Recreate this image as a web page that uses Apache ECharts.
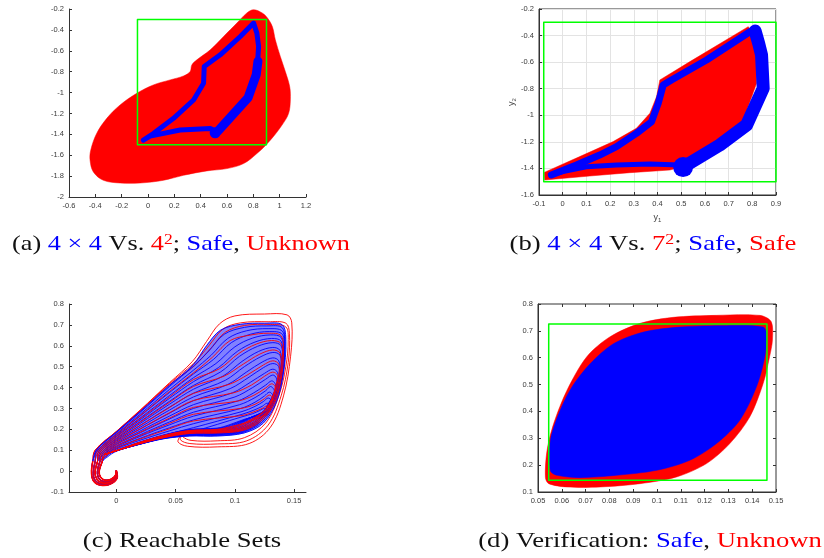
<!DOCTYPE html>
<html><head><meta charset="utf-8">
<script src="https://cdn.jsdelivr.net/npm/echarts@6/dist/echarts.min.js"></script>
<style>html,body{margin:0;padding:0;background:#fff}#c{width:824px;height:558px}</style>
</head><body><div id="c"></div>
<script>
// ================= DATA =================
// Panel (a): 4x4 vs 4^2
const aRedRegion = [[0.802,-0.207],[0.87,-0.24],[0.91,-0.29],[0.945,-0.37],[0.967,-0.495],[1.005,-0.655],[1.043,-0.799],[1.076,-0.943],[1.081,-1.071],[1.068,-1.199],[1.018,-1.311],[0.929,-1.456],[0.827,-1.584],[0.726,-1.68],[0.599,-1.728],[0.447,-1.75],[0.27,-1.792],[0.118,-1.84],[-0.06,-1.866],[-0.212,-1.866],[-0.339,-1.84],[-0.415,-1.76],[-0.44,-1.648],[-0.435,-1.552],[-0.39,-1.392],[-0.313,-1.247],[-0.212,-1.119],[-0.085,-1.007],[0.041,-0.927],[0.168,-0.879],[0.27,-0.841],[0.32,-0.799],[0.333,-0.735],[0.371,-0.687],[0.473,-0.591],[0.574,-0.463],[0.675,-0.335],[0.751,-0.238]];
const aBlueLoop = [[-0.035,-1.456],[0.041,-1.392],[0.194,-1.247],[0.346,-1.071],[0.422,-0.911],[0.427,-0.751],[0.549,-0.639],[0.701,-0.463],[0.802,-0.335],[0.827,-0.431],[0.840,-0.559],[0.827,-0.815],[0.764,-1.039],[0.65,-1.199],[0.523,-1.376],[0.473,-1.343],[0.244,-1.359],[0.016,-1.417],[-0.035,-1.456]];
const aBlueThick = [[0.835,-0.70],[0.822,-0.83],[0.76,-1.05],[0.645,-1.21],[0.53,-1.37]];
const aBlueBlob = [[0.51,-1.385]];
const safeBox = [[-0.08,-1.5],[0.9,-1.5],[0.9,-0.3],[-0.08,-0.3],[-0.08,-1.5]];

// Panel (b): 4x4 vs 7^2
const bRedRegion = [[-0.076,-1.487],[-0.078,-1.43],[0.072,-1.311],[0.213,-1.198],[0.311,-1.098],[0.368,-0.985],[0.396,-0.86],[0.41,-0.734],[0.537,-0.596],[0.783,-0.333],[0.818,-0.433],[0.818,-0.759],[0.762,-1.035],[0.607,-1.261],[0.48,-1.399],[0.452,-1.412],[0.283,-1.432],[0.114,-1.457]];
const bBlueEdgeTop = [[-0.048,-1.449],[0.058,-1.374],[0.156,-1.299],[0.227,-1.236],[0.311,-1.136],[0.375,-1.048],[0.403,-0.910],[0.424,-0.772],[0.459,-0.734],[0.607,-0.584],[0.790,-0.371],[0.812,-0.36]];
const bBlueEdgeRight = [[0.812,-0.365],[0.827,-0.46],[0.839,-0.546],[0.846,-0.797],[0.776,-1.073],[0.663,-1.224],[0.523,-1.374]];
const bBlueEdgeBottom = [[0.494,-1.374],[0.368,-1.367],[0.227,-1.374],[0.1,-1.387],[0.001,-1.424],[-0.048,-1.449]];
const bBlueBlob = [[0.508,-1.39]];

// Panel (c): reachable set trajectories (curl near the origin, then one loop each)
const hookA = [[0,0],[0.0005,-0.035],[-0.005,-0.062],[-0.013,-0.068],[-0.019,-0.05],[-0.021,-0.01],[-0.02,0.045]];
const hookB = [[0,0],[0,-0.032],[-0.005,-0.057],[-0.0125,-0.062],[-0.018,-0.044],[-0.0195,-0.007],[-0.018,0.045]];
const hookC = [[0,0],[-0.0005,-0.03],[-0.005,-0.052],[-0.012,-0.056],[-0.0165,-0.038],[-0.018,-0.005],[-0.016,0.045]];
const hookD = [[0,0],[-0.001,-0.026],[-0.005,-0.046],[-0.011,-0.05],[-0.015,-0.033],[-0.016,-0.002],[-0.014,0.045]];
const hookE = [[0,0],[-0.001,-0.022],[-0.005,-0.04],[-0.01,-0.043],[-0.0135,-0.028],[-0.0145,0.0],[-0.012,0.045]];
const redLoops = [
 [[-0.018,0.1],[0.0,0.19],[0.02,0.292],[0.045,0.424],[0.064,0.524],[0.076,0.62],[0.087,0.705],[0.1,0.743],[0.125,0.752],[0.144,0.748],[0.148,0.71],[0.147,0.55],[0.141,0.36],[0.13,0.21],[0.112,0.132],[0.085,0.116],[0.06,0.119],[0.052,0.14],[0.054,0.178],[0.035,0.152],[0.015,0.122],[0.0,0.097],[-0.01,0.078]],
 [[-0.018,0.1],[0.0,0.19],[0.02,0.29],[0.045,0.42],[0.065,0.515],[0.078,0.6],[0.09,0.68],[0.105,0.71],[0.128,0.715],[0.143,0.708],[0.146,0.66],[0.145,0.52],[0.139,0.36],[0.128,0.22],[0.11,0.145],[0.085,0.13],[0.062,0.132],[0.054,0.15],[0.055,0.18],[0.035,0.153],[0.015,0.123],[0.0,0.097],[-0.01,0.078]],
 [[-0.017,0.1],[0.0,0.188],[0.02,0.287],[0.045,0.415],[0.066,0.505],[0.08,0.59],[0.092,0.665],[0.108,0.697],[0.13,0.702],[0.143,0.69],[0.145,0.63],[0.143,0.5],[0.137,0.36],[0.126,0.23],[0.108,0.16],[0.085,0.145],[0.063,0.147],[0.056,0.165],[0.056,0.182],[0.035,0.154],[0.015,0.124],[0.0,0.097],[-0.01,0.078]],
 [[-0.016,0.095],[0.0,0.176],[0.02,0.266],[0.045,0.382],[0.065,0.47],[0.081,0.545],[0.096,0.625],[0.112,0.65],[0.128,0.66],[0.139,0.648],[0.141,0.57],[0.139,0.44],[0.133,0.32],[0.122,0.24],[0.107,0.195],[0.085,0.182],[0.062,0.18],[0.04,0.16],[0.018,0.128],[0.0,0.098],[-0.01,0.08]],
 [[-0.015,0.092],[0.0,0.166],[0.02,0.25],[0.045,0.356],[0.065,0.438],[0.087,0.49],[0.103,0.562],[0.118,0.608],[0.131,0.625],[0.139,0.61],[0.14,0.54],[0.138,0.43],[0.132,0.32],[0.121,0.243],[0.106,0.198],[0.085,0.185],[0.062,0.182],[0.04,0.161],[0.018,0.129],[0.0,0.098],[-0.01,0.08]],
 [[-0.014,0.09],[0.0,0.157],[0.02,0.234],[0.045,0.33],[0.065,0.405],[0.091,0.455],[0.107,0.512],[0.121,0.56],[0.132,0.58],[0.138,0.565],[0.139,0.5],[0.136,0.405],[0.13,0.31],[0.12,0.245],[0.105,0.2],[0.085,0.188],[0.062,0.185],[0.04,0.162],[0.018,0.13],[0.0,0.098],[-0.01,0.08]],
 [[-0.013,0.087],[0.0,0.147],[0.02,0.218],[0.045,0.305],[0.065,0.372],[0.095,0.415],[0.111,0.462],[0.124,0.508],[0.132,0.528],[0.137,0.512],[0.137,0.46],[0.134,0.385],[0.128,0.3],[0.119,0.248],[0.104,0.203],[0.085,0.19],[0.062,0.187],[0.04,0.164],[0.018,0.131],[0.0,0.098],[-0.01,0.08]],
 [[-0.012,0.083],[0.0,0.138],[0.02,0.202],[0.045,0.28],[0.065,0.338],[0.099,0.375],[0.114,0.412],[0.125,0.454],[0.132,0.474],[0.136,0.458],[0.135,0.42],[0.132,0.36],[0.126,0.295],[0.117,0.25],[0.103,0.206],[0.085,0.193],[0.062,0.189],[0.04,0.166],[0.018,0.132],[0.0,0.098],[-0.01,0.08]],
 [[-0.011,0.079],[0.0,0.128],[0.02,0.186],[0.045,0.254],[0.065,0.305],[0.103,0.336],[0.116,0.363],[0.126,0.398],[0.131,0.418],[0.134,0.404],[0.133,0.375],[0.13,0.33],[0.124,0.285],[0.115,0.25],[0.102,0.21],[0.085,0.196],[0.062,0.191],[0.04,0.168],[0.018,0.133],[0.0,0.098],[-0.01,0.08]],
 [[-0.01,0.075],[0.0,0.119],[0.02,0.17],[0.045,0.229],[0.065,0.272],[0.105,0.3],[0.117,0.32],[0.125,0.347],[0.129,0.364],[0.132,0.35],[0.131,0.33],[0.127,0.3],[0.121,0.27],[0.113,0.245],[0.1,0.213],[0.085,0.198],[0.062,0.193],[0.04,0.17],[0.018,0.134],[0.0,0.098],[-0.01,0.08]],
 [[-0.009,0.071],[0.0,0.109],[0.02,0.154],[0.045,0.203],[0.065,0.24],[0.106,0.266],[0.116,0.284],[0.123,0.3],[0.127,0.312],[0.13,0.3],[0.128,0.28],[0.124,0.265],[0.118,0.25],[0.11,0.232],[0.098,0.215],[0.085,0.2],[0.062,0.195],[0.04,0.171],[0.018,0.135],[0.0,0.098],[-0.01,0.08]]
];
const blueLoops = [
 [[-0.017,0.1],[0.0,0.187],[0.02,0.285],[0.045,0.412],[0.065,0.51],[0.076,0.6],[0.088,0.675],[0.105,0.703],[0.125,0.708],[0.14,0.7],[0.143,0.62],[0.141,0.47],[0.135,0.33],[0.124,0.23],[0.108,0.183],[0.085,0.168],[0.062,0.168],[0.04,0.155],[0.018,0.126],[0.0,0.098],[-0.01,0.08]],
 [[-0.017,0.1],[0.0,0.185],[0.02,0.281],[0.045,0.406],[0.065,0.502],[0.078,0.575],[0.091,0.655],[0.108,0.688],[0.127,0.695],[0.14,0.686],[0.142,0.6],[0.14,0.46],[0.134,0.33],[0.123,0.235],[0.107,0.186],[0.085,0.171],[0.062,0.17],[0.04,0.156],[0.018,0.126],[0.0,0.098],[-0.01,0.08]],
 [[-0.016,0.098],[0.0,0.179],[0.02,0.272],[0.045,0.392],[0.065,0.483],[0.08,0.555],[0.094,0.635],[0.11,0.672],[0.128,0.682],[0.14,0.67],[0.142,0.59],[0.14,0.45],[0.133,0.33],[0.122,0.238],[0.107,0.189],[0.085,0.174],[0.062,0.172],[0.04,0.157],[0.018,0.127],[0.0,0.098],[-0.01,0.08]],
 [[-0.016,0.096],[0.0,0.174],[0.02,0.263],[0.045,0.377],[0.065,0.465],[0.082,0.535],[0.097,0.615],[0.113,0.655],[0.129,0.668],[0.14,0.655],[0.141,0.58],[0.139,0.44],[0.133,0.33],[0.122,0.24],[0.106,0.191],[0.085,0.176],[0.062,0.174],[0.04,0.158],[0.018,0.127],[0.0,0.098],[-0.01,0.08]],
 [[-0.015,0.094],[0.0,0.169],[0.02,0.254],[0.045,0.363],[0.065,0.447],[0.084,0.515],[0.1,0.595],[0.115,0.637],[0.13,0.652],[0.139,0.64],[0.141,0.57],[0.139,0.44],[0.132,0.33],[0.121,0.242],[0.106,0.193],[0.085,0.178],[0.062,0.176],[0.04,0.159],[0.018,0.128],[0.0,0.098],[-0.01,0.08]],
 [[-0.015,0.092],[0.0,0.164],[0.02,0.245],[0.045,0.349],[0.065,0.428],[0.086,0.495],[0.102,0.573],[0.117,0.618],[0.131,0.635],[0.139,0.622],[0.14,0.55],[0.138,0.43],[0.132,0.32],[0.121,0.244],[0.105,0.195],[0.085,0.18],[0.062,0.178],[0.04,0.16],[0.018,0.128],[0.0,0.098],[-0.01,0.08]],
 [[-0.014,0.09],[0.0,0.158],[0.02,0.237],[0.045,0.335],[0.065,0.41],[0.088,0.475],[0.104,0.55],[0.119,0.597],[0.132,0.615],[0.139,0.6],[0.14,0.53],[0.138,0.42],[0.131,0.32],[0.12,0.246],[0.105,0.197],[0.085,0.182],[0.062,0.18],[0.04,0.161],[0.018,0.129],[0.0,0.098],[-0.01,0.08]],
 [[-0.014,0.088],[0.0,0.153],[0.02,0.228],[0.045,0.321],[0.065,0.392],[0.09,0.455],[0.106,0.525],[0.12,0.573],[0.132,0.592],[0.138,0.578],[0.139,0.51],[0.137,0.41],[0.13,0.315],[0.12,0.248],[0.104,0.199],[0.085,0.184],[0.062,0.181],[0.04,0.162],[0.018,0.129],[0.0,0.098],[-0.01,0.08]],
 [[-0.013,0.086],[0.0,0.148],[0.02,0.219],[0.045,0.307],[0.065,0.373],[0.092,0.435],[0.108,0.5],[0.122,0.548],[0.132,0.568],[0.138,0.555],[0.139,0.49],[0.136,0.4],[0.13,0.31],[0.119,0.25],[0.104,0.201],[0.085,0.186],[0.062,0.183],[0.04,0.163],[0.018,0.13],[0.0,0.098],[-0.01,0.08]],
 [[-0.013,0.084],[0.0,0.143],[0.02,0.21],[0.045,0.293],[0.065,0.355],[0.094,0.415],[0.11,0.475],[0.123,0.522],[0.132,0.542],[0.137,0.528],[0.138,0.47],[0.135,0.39],[0.129,0.305],[0.118,0.252],[0.103,0.203],[0.085,0.188],[0.062,0.185],[0.04,0.164],[0.018,0.13],[0.0,0.098],[-0.01,0.08]],
 [[-0.012,0.082],[0.0,0.137],[0.02,0.201],[0.045,0.278],[0.065,0.337],[0.096,0.395],[0.112,0.45],[0.124,0.495],[0.132,0.515],[0.137,0.5],[0.137,0.45],[0.134,0.38],[0.128,0.3],[0.117,0.254],[0.103,0.205],[0.085,0.19],[0.062,0.186],[0.04,0.165],[0.018,0.131],[0.0,0.098],[-0.01,0.08]],
 [[-0.012,0.08],[0.0,0.132],[0.02,0.192],[0.045,0.264],[0.065,0.318],[0.098,0.375],[0.113,0.425],[0.125,0.468],[0.132,0.488],[0.136,0.472],[0.136,0.43],[0.133,0.37],[0.127,0.3],[0.116,0.256],[0.102,0.207],[0.085,0.192],[0.062,0.188],[0.04,0.166],[0.018,0.131],[0.0,0.098],[-0.01,0.08]],
 [[-0.011,0.078],[0.0,0.127],[0.02,0.183],[0.045,0.25],[0.065,0.3],[0.1,0.355],[0.115,0.4],[0.126,0.44],[0.132,0.46],[0.135,0.445],[0.135,0.41],[0.132,0.36],[0.126,0.295],[0.115,0.258],[0.101,0.209],[0.085,0.194],[0.062,0.19],[0.04,0.167],[0.018,0.132],[0.0,0.098],[-0.01,0.08]],
 [[-0.011,0.076],[0.0,0.121],[0.02,0.174],[0.045,0.236],[0.065,0.282],[0.102,0.335],[0.116,0.375],[0.126,0.412],[0.131,0.432],[0.134,0.418],[0.134,0.39],[0.131,0.35],[0.125,0.29],[0.114,0.258],[0.1,0.211],[0.085,0.196],[0.062,0.192],[0.04,0.168],[0.018,0.132],[0.0,0.098],[-0.01,0.08]],
 [[-0.01,0.074],[0.0,0.116],[0.02,0.166],[0.045,0.222],[0.065,0.263],[0.104,0.318],[0.117,0.352],[0.126,0.385],[0.13,0.405],[0.133,0.39],[0.133,0.37],[0.13,0.34],[0.124,0.285],[0.113,0.256],[0.099,0.213],[0.085,0.198],[0.062,0.193],[0.04,0.169],[0.018,0.133],[0.0,0.098],[-0.01,0.08]],
 [[-0.01,0.072],[0.0,0.111],[0.02,0.157],[0.045,0.208],[0.065,0.245],[0.105,0.3],[0.117,0.33],[0.125,0.36],[0.129,0.378],[0.132,0.365],[0.132,0.35],[0.129,0.33],[0.123,0.28],[0.112,0.254],[0.098,0.215],[0.085,0.2],[0.062,0.195],[0.04,0.17],[0.018,0.133],[0.0,0.098],[-0.01,0.08]],
 [[-0.009,0.07],[0.0,0.106],[0.02,0.148],[0.045,0.193],[0.065,0.227],[0.106,0.285],[0.117,0.31],[0.124,0.333],[0.128,0.35],[0.131,0.338],[0.131,0.325],[0.128,0.31],[0.122,0.275],[0.111,0.252],[0.097,0.217],[0.085,0.202],[0.062,0.196],[0.04,0.171],[0.018,0.134],[0.0,0.098],[-0.01,0.08]],
 [[-0.009,0.068],[0.0,0.1],[0.02,0.139],[0.045,0.179],[0.065,0.208],[0.106,0.272],[0.116,0.292],[0.123,0.31],[0.127,0.325],[0.13,0.315],[0.13,0.3],[0.127,0.29],[0.12,0.27],[0.11,0.25],[0.096,0.219],[0.085,0.204],[0.062,0.198],[0.04,0.172],[0.018,0.134],[0.0,0.098],[-0.01,0.08]],
 [[-0.008,0.066],[0.0,0.095],[0.02,0.13],[0.045,0.165],[0.065,0.19],[0.106,0.26],[0.115,0.275],[0.121,0.29],[0.125,0.3],[0.128,0.29],[0.128,0.28],[0.125,0.27],[0.118,0.262],[0.108,0.248],[0.095,0.221],[0.085,0.206],[0.062,0.199],[0.04,0.173],[0.018,0.135],[0.0,0.098],[-0.01,0.08]]
];
// envelope of the dense blue trajectories
const cBlueHull = [[-0.017,0.1],[0.0,0.187],[0.02,0.285],[0.045,0.412],[0.065,0.51],[0.076,0.6],[0.088,0.675],[0.105,0.703],[0.125,0.708],[0.14,0.7],[0.143,0.62],[0.141,0.47],[0.135,0.33],[0.124,0.23],[0.108,0.183],[0.085,0.168],[0.062,0.168],[0.04,0.155],[0.018,0.126],[0.0,0.098],[-0.01,0.08]];

// Panel (d): verification
const dRedRegion = [[0.0531,0.1546],[0.0538,0.2545],[0.0566,0.3549],[0.0622,0.4792],[0.0705,0.6036],[0.0803,0.6782],[0.0929,0.7279],[0.1068,0.7503],[0.125,0.7577],[0.1432,0.7577],[0.148,0.734],[0.1485,0.6657],[0.1473,0.6036],[0.1446,0.5041],[0.139,0.3798],[0.1306,0.2803],[0.1208,0.2057],[0.1082,0.156],[0.0929,0.1311],[0.0761,0.1187],[0.0622,0.1187],[0.0545,0.1311]];
const dBlueRegion = [[0.0552,0.1795],[0.0552,0.2914],[0.0587,0.3909],[0.0642,0.4903],[0.0719,0.5774],[0.0817,0.652],[0.0943,0.6955],[0.1096,0.7142],[0.1292,0.7192],[0.1446,0.7142],[0.146,0.6893],[0.1453,0.6036],[0.1418,0.4917],[0.1348,0.3673],[0.125,0.2803],[0.1138,0.2181],[0.0999,0.1808],[0.0831,0.1622],[0.0677,0.1535],[0.058,0.1622]];
const dSafeBox = [[0.0545,0.1435],[0.1462,0.1435],[0.1462,0.7254],[0.0545,0.7254],[0.0545,0.1435]];

// Axis ranges / ticks
const aX = {min:-0.6, max:1.2, interval:0.2}, aY = {min:-2, max:-0.2, interval:0.2};
const bX = {min:-0.1, max:0.9, interval:0.1}, bY = {min:-1.6, max:-0.2, interval:0.2};
const cX = {min:-0.04, max:0.16}, cXTicks = [0, 0.05, 0.1, 0.15], cY = {min:-0.1, max:0.8, interval:0.1};
const dX = {min:0.05, max:0.15, interval:0.01}, dY = {min:0.1, max:0.8, interval:0.1};

// ================= CHART =================
const AX = '#333333', LBL = '#3a3a3a';
const BLUE = '#0000ff', RED = '#ff0000', GREEN = '#00ff00';
function axisBase(gi, r, pos) {
  return {
    type:'value', gridIndex:gi, min:r.min, max:r.max, interval:r.interval, position:pos,
    axisLine:{show:true, onZero:false, lineStyle:{color:AX, width:1}},
    axisTick:{show:true, inside:true, length:3, lineStyle:{color:AX}},
    axisLabel:{show:true, color:LBL, fontSize:7.5, fontFamily:'Liberation Sans', margin:5, showMinLabel:true, showMaxLabel:true},
    splitLine:{show:false}
  };
}
const grids = [
  {left:69, top:9, width:237, height:188},
  {left:539, top:9, width:237, height:186, show:true, borderColor:AX, borderWidth:1, backgroundColor:'transparent'},
  {left:69, top:304, width:237, height:188},
  {left:538, top:304, width:238, height:188, show:true, borderColor:AX, borderWidth:1, backgroundColor:'transparent'}
];
const xAxes = [axisBase(0,aX,'bottom'), axisBase(1,bX,'bottom'), axisBase(2,cX,'bottom'), axisBase(3,dX,'bottom')];
const yAxes = [axisBase(0,aY,'left'), axisBase(1,bY,'left'), axisBase(2,cY,'left'), axisBase(3,dY,'left')];
xAxes[1].splitLine = {show:true, lineStyle:{color:'#e3e3e3', width:1}};
yAxes[1].splitLine = {show:true, lineStyle:{color:'#e3e3e3', width:1}};
const subRich = {rich:{y:{fontSize:9, color:'#444', fontFamily:'Liberation Sans'}, s:{fontSize:6, color:'#444', padding:[5,0,0,0], fontFamily:'Liberation Sans'}}};
xAxes[1].name = '{y|y}{s|1}';
xAxes[1].nameLocation = 'middle'; xAxes[1].nameGap = 17; xAxes[1].nameTextStyle = subRich;
yAxes[1].name = '{y|y}{s|2}';
yAxes[1].nameLocation = 'middle'; yAxes[1].nameGap = 22; yAxes[1].nameRotate = 90; yAxes[1].nameTextStyle = subRich;
xAxes[2].axisTick.customValues = cXTicks;
xAxes[2].axisLabel.customValues = cXTicks;
delete xAxes[2].interval;
// top/right tick axes for (d)
const dTop = axisBase(3,dX,'top'); dTop.axisLabel = {show:false}; dTop.axisLine = {show:false};
const dRight = axisBase(3,dY,'right'); dRight.axisLabel = {show:false}; dRight.axisLine = {show:false};
xAxes.push(dTop); yAxes.push(dRight);

function polygonSeries(gi, pts, fill, smooth, opacity) {
  return {type:'custom', coordinateSystem:'cartesian2d', xAxisIndex:gi, yAxisIndex:gi, silent:true,
    data:[pts[0]], clip:false,
    renderItem:(params, api) => ({type:'polygon', shape:{points:pts.map(p => api.coord(p)), smooth:smooth||0},
      style:{fill:fill, stroke:fill, lineWidth:0.5, opacity:opacity==null?1:opacity}})};
}
function pathSeries(gi, pts, color, width, smooth) {
  return {type:'custom', coordinateSystem:'cartesian2d', xAxisIndex:gi, yAxisIndex:gi, silent:true,
    data:[pts[0]], clip:false,
    renderItem:(params, api) => ({type:'polyline', shape:{points:pts.map(p => api.coord(p)), smooth:smooth||0},
      style:{fill:null, stroke:color, lineWidth:width, lineJoin:'round', lineCap:'round'}})};
}
function dotSeries(gi, pts, color, size) {
  return {type:'scatter', xAxisIndex:gi, yAxisIndex:gi, data:pts, symbolSize:size, silent:true,
    itemStyle:{color:color, opacity:1}};
}

const series = [];
// (a)
series.push(polygonSeries(0, aRedRegion, RED, 0.35));
series.push(pathSeries(0, aBlueLoop, BLUE, 5));
series.push(pathSeries(0, aBlueThick, BLUE, 9));
series.push(dotSeries(0, aBlueBlob, BLUE, 11));
series.push(pathSeries(0, safeBox, GREEN, 1.5));
// (b)
series.push(polygonSeries(1, bRedRegion, RED, 0));
series.push(pathSeries(1, bBlueEdgeTop, BLUE, 7));
series.push(pathSeries(1, bBlueEdgeRight, BLUE, 13));
series.push(pathSeries(1, bBlueEdgeBottom, BLUE, 5));
series.push(dotSeries(1, bBlueBlob, BLUE, 20));
series.push(pathSeries(1, safeBox, GREEN, 1.5));
// (c)
series.push(polygonSeries(2, cBlueHull, '#1a1aff', 0.3, 0.55));
const blueHooks = [hookA,hookB,hookA,hookB,hookC,hookB,hookC,hookD,hookC,hookD,hookE,hookD,hookC,hookE,hookD,hookE,hookD,hookE,hookE];
const redHooks = [hookA,hookA,hookB,hookB,hookC,hookC,hookD,hookD,hookE,hookE,hookD];
redLoops.slice(0,3).forEach((lp, i) => series.push(pathSeries(2, redHooks[i].concat(lp), RED, 0.9, 0.35)));
blueLoops.forEach((lp, i) => series.push(pathSeries(2, blueHooks[i].concat(lp), BLUE, 0.9, 0.35)));
redLoops.slice(3).forEach((lp, i) => series.push(pathSeries(2, redHooks[i+3].concat(lp), RED, 0.9, 0.35)));
[hookA, hookB, hookC, hookD, hookE].forEach((h, i) => series.push(pathSeries(2, h, i % 2 ? '#c00040' : RED, 1.6, 0.35)));
// (d)
series.push(polygonSeries(3, dRedRegion, RED, 0.3));
series.push(polygonSeries(3, dBlueRegion, BLUE, 0.3));
series.push(pathSeries(3, dSafeBox, GREEN, 1.5));

// captions
const CAP = 'Liberation Serif';
function caption(x, y, text, sx) {
  return {type:'text', x:x, y:y, scaleX:sx, silent:true,
    style:{text:text, align:'center', verticalAlign:'middle', fontFamily:CAP, fontSize:21, fill:'#000',
      rich:{k:{fill:'#111', fontFamily:CAP, fontSize:21}, b:{fill:BLUE, fontFamily:CAP, fontSize:21}, r:{fill:RED, fontFamily:CAP, fontSize:21},
            s:{fill:RED, fontFamily:CAP, fontSize:14, verticalAlign:'top'}}}};
}
const graphics = [
  caption(181, 244, '{k|(a) }{b|4 × 4}{k| Vs. }{r|4}{s|2}{k|; }{b|Safe}{k|, }{r|Unknown}', 1.25),
  caption(653, 244, '{k|(b) }{b|4 × 4}{k| Vs. }{r|7}{s|2}{k|; }{b|Safe}{k|, }{r|Safe}', 1.27),
  caption(182, 541, '{k|(c) Reachable Sets}', 1.27),
  caption(650, 541, '{k|(d) Verification: }{b|Safe}{k|, }{r|Unknown}', 1.27)
];

const chart = echarts.init(document.getElementById('c'));
chart.setOption({animation:false, backgroundColor:'#fff', grid:grids, xAxis:xAxes, yAxis:yAxes, series:series, graphic:graphics});
</script></body></html>
